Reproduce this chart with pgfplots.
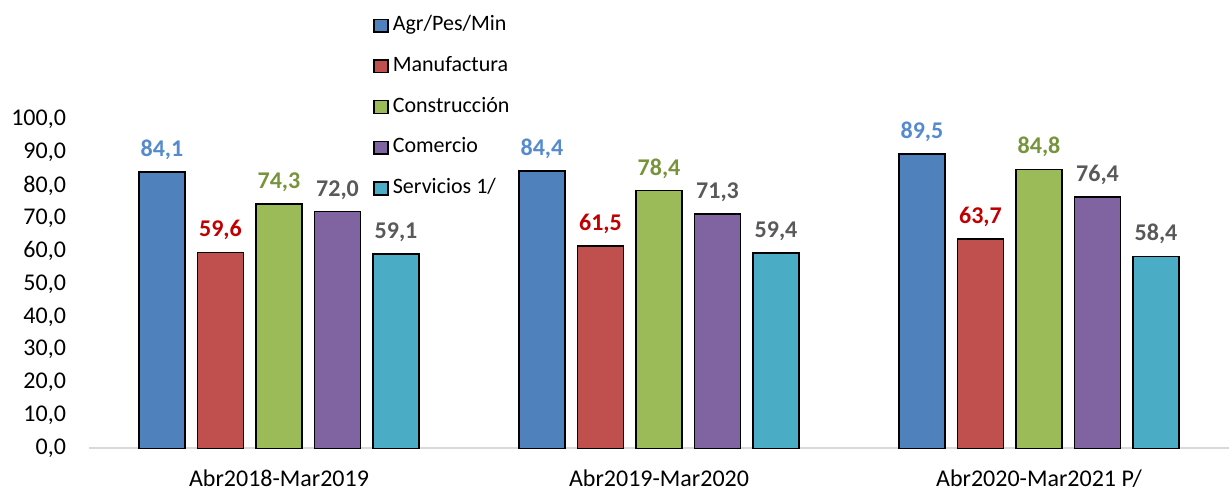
\documentclass[border=0pt]{standalone}
\usepackage{fontspec}
\setmainfont{Carlito}
\usepackage{pgfplots}
\pgfplotsset{compat=1.18}
\definecolor{cA}{HTML}{4F81BD}
\definecolor{cB}{HTML}{C0504D}
\definecolor{cC}{HTML}{9BBB59}
\definecolor{cD}{HTML}{8064A2}
\definecolor{cE}{HTML}{4BACC6}
\definecolor{lA}{HTML}{558ACF}
\definecolor{lB}{HTML}{C00000}
\definecolor{lC}{HTML}{77933C}
\definecolor{lD}{HTML}{595959}
\begin{document}
\begin{tikzpicture}
\path[use as bounding box] (-44.5pt,-21.85pt) rectangle (570pt,224.15pt);
\begin{axis}[
  at={(0,0)}, anchor=south west,
  scale only axis, width=570pt, height=164.3pt,
  xmin=-0.5, xmax=2.5, ymin=0, ymax=100,
  ybar, bar width=0.121,
  axis x line*=bottom, axis y line*=left,
  x axis line style={draw=black!15, line width=1pt, -},
  y axis line style={draw=none},
  xtick={0,1,2},
  xticklabels={Abr2018-Mar2019, Abr2019-Mar2020, Abr2020-Mar2021 P/},
  ytick={0,10,...,100},
  major tick length=0pt,
  /pgf/number format/assume math mode=true,
  yticklabel style={/pgf/number format/fixed, /pgf/number format/fixed zerofill, /pgf/number format/precision=1, /pgf/number format/use comma, font=\fontsize{12}{14}\selectfont, xshift=-8pt},
  xticklabel style={font=\fontsize{12}{14}\selectfont, yshift=-7pt},
  nodes near coords,
  every node near coord/.append style={/pgf/number format/fixed, /pgf/number format/fixed zerofill, /pgf/number format/precision=1, /pgf/number format/use comma, font=\bfseries\fontsize{12}{14}\selectfont, anchor=south, yshift=2.5pt},
  legend style={at={(0.2439,1.33)}, anchor=north west, draw=none, fill=none,
    font=\fontsize{11}{13}\selectfont, row sep=10.35pt,
    nodes={inner sep=0pt, text height=7.5pt, text depth=2.5pt},
    /tikz/every odd column/.append style={column sep=2pt}},
  legend cell align=left,
  legend image code/.code={\draw[#1, draw=black, line width=0.7pt] (0pt,-3.2pt) rectangle (7pt,3.2pt);},
]
\addplot[fill=cA, draw=black, line width=0.75pt, bar shift=-0.308, every node near coord/.append style={text=lA}] coordinates {(0,84.1) (1,84.4) (2,89.5)};
\addplot[fill=cB, draw=black, line width=0.75pt, bar shift=-0.154, every node near coord/.append style={text=lB}] coordinates {(0,59.6) (1,61.5) (2,63.7)};
\addplot[fill=cC, draw=black, line width=0.75pt, bar shift=0, every node near coord/.append style={text=lC}] coordinates {(0,74.3) (1,78.4) (2,84.8)};
\addplot[fill=cD, draw=black, line width=0.75pt, bar shift=0.154, every node near coord/.append style={text=lD}] coordinates {(0,72.0) (1,71.3) (2,76.4)};
\addplot[fill=cE, draw=black, line width=0.75pt, bar shift=0.308, every node near coord/.append style={text=lD}] coordinates {(0,59.1) (1,59.4) (2,58.4)};
\legend{Agr/Pes/Min, Manufactura, Construcción, Comercio, Servicios 1/}
\end{axis}
\end{tikzpicture}
\end{document}
